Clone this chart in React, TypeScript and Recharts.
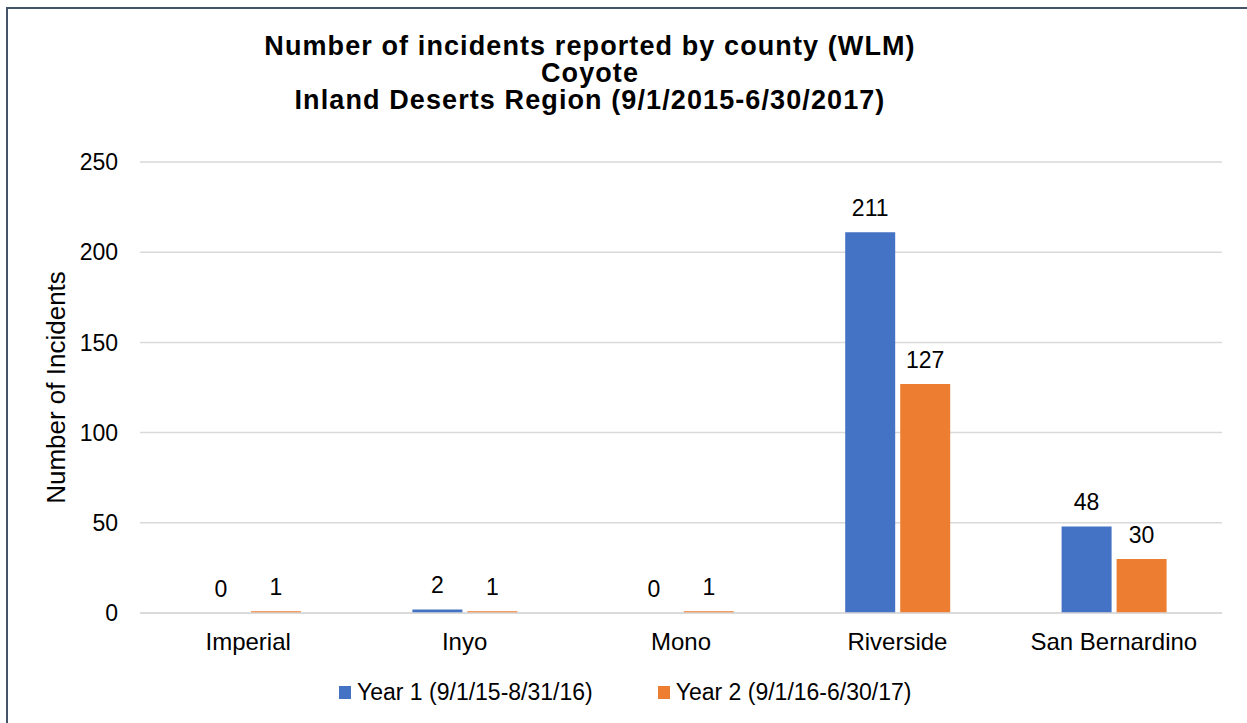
import { BarChart, Bar, XAxis, YAxis, CartesianGrid, LabelList, Label } from "recharts";

const counties = ["Imperial", "Inyo", "Mono", "Riverside", "San Bernardino"];
const year1 = [0, 2, 0, 211, 48];
const year2 = [1, 1, 1, 127, 30];
const yTicks = [0, 50, 100, 150, 200, 250];
const titleLines = [
  "Number of incidents reported by county (WLM)",
  "Coyote",
  "Inland Deserts Region (9/1/2015-6/30/2017)",
];
const seriesNames = ["Year 1 (9/1/15-8/31/16)", "Year 2 (9/1/16-6/30/17)"];
const colors = ["#4472C4", "#ED7D31"];

const data = counties.map((name, i) => ({ name, y1: year1[i], y2: year2[i] }));

const font = "'Liberation Sans', Arial, sans-serif";
const BAR_GAP = 5;
const LABEL_OFFSET = 16;

const valueText = (cx: number, y: number, v: any, key: string) => (
  <text
    key={key}
    x={cx}
    y={y}
    textAnchor="middle"
    fill="#000"
    fontSize={23}
    fontFamily={font}
  >
    {String(v)}
  </text>
);

// year 1 labels (zero-height bars get no label from recharts)
const renderY1 = (props: any) => {
  const { x, y, width, value } = props;
  if (!value) return null;
  return valueText(Number(x) + Number(width) / 2, Number(y) - LABEL_OFFSET, value, "a");
};

// year 2 labels; also places the year 1 label when its bar is zero,
// next to this bar on the shared baseline
const renderY2 = (props: any) => {
  const { x, y, width, height, value, index } = props;
  const w = Number(width);
  const out = [valueText(Number(x) + w / 2, Number(y) - LABEL_OFFSET, value, "b")];
  if (year1[index] === 0) {
    const base = Number(y) + Number(height);
    out.push(valueText(Number(x) - BAR_GAP - w / 2, base - LABEL_OFFSET, 0, "z"));
  }
  return <g>{out}</g>;
};

export default function App() {
  return (
    <div
      style={{
        position: "relative",
        width: 1247,
        height: 723,
        overflow: "hidden",
        background: "#fff",
        fontFamily: font,
      }}
    >
      <style>{`body{margin:0;overflow:hidden}`}</style>
      <div
        style={{
          position: "absolute",
          left: 6,
          top: 7,
          width: 1300,
          height: 800,
          border: "2px solid #44546A",
          boxSizing: "border-box",
        }}
      />
      <div
        style={{
          position: "absolute",
          left: 240,
          width: 700,
          top: 33,
          textAlign: "center",
          fontWeight: "bold",
          fontSize: 27,
          lineHeight: "27px",
          letterSpacing: 1.1,
          color: "#000",
          whiteSpace: "nowrap",
        }}
      >
        {titleLines.map((t) => (
          <div key={t}>{t}</div>
        ))}
      </div>
      <div style={{ position: "absolute", left: 0, top: 0 }}>
        <BarChart
          width={1247}
          height={723}
          data={data}
          margin={{ top: 162, right: 25, bottom: 70, left: 0 }}
          barCategoryGap={56}
          barGap={BAR_GAP}
        >
          <CartesianGrid vertical={false} stroke="#d9d9d9" strokeWidth={1.5} />
          <XAxis
            dataKey="name"
            height={40}
            tickLine={false}
            tickSize={0}
            tickMargin={20}
            axisLine={{ stroke: "#d9d9d9", strokeWidth: 1.5 }}
            tick={{ fill: "#000", fontSize: 24, fontFamily: font }}
          />
          <YAxis
            width={140}
            domain={[0, 250]}
            ticks={yTicks}
            axisLine={false}
            tickLine={false}
            tickSize={0}
            tickMargin={22}
            tick={{ fill: "#000", fontSize: 23, fontFamily: font }}
          >
            <Label
              value="Number of Incidents"
              angle={-90}
              position="center"
              dx={-14}
              style={{ fill: "#000", fontSize: 26, fontFamily: font }}
            />
          </YAxis>
          <Bar dataKey="y1" fill={colors[0]} isAnimationActive={false}>
            <LabelList dataKey="y1" content={renderY1} />
          </Bar>
          <Bar dataKey="y2" fill={colors[1]} isAnimationActive={false}>
            <LabelList dataKey="y2" content={renderY2} />
          </Bar>
        </BarChart>
      </div>
      <div
        style={{
          position: "absolute",
          left: 339,
          top: 678,
          display: "flex",
          alignItems: "center",
          fontSize: 23,
          lineHeight: "28px",
          color: "#000",
          whiteSpace: "nowrap",
        }}
      >
        {seriesNames.map((s, i) => (
          <div
            key={s}
            style={{ display: "flex", alignItems: "center", marginRight: i === 0 ? 65 : 0 }}
          >
            <span
              style={{
                display: "inline-block",
                width: 12,
                height: 13,
                background: colors[i],
                marginRight: 6,
              }}
            />
            <span>{s}</span>
          </div>
        ))}
      </div>
    </div>
  );
}
